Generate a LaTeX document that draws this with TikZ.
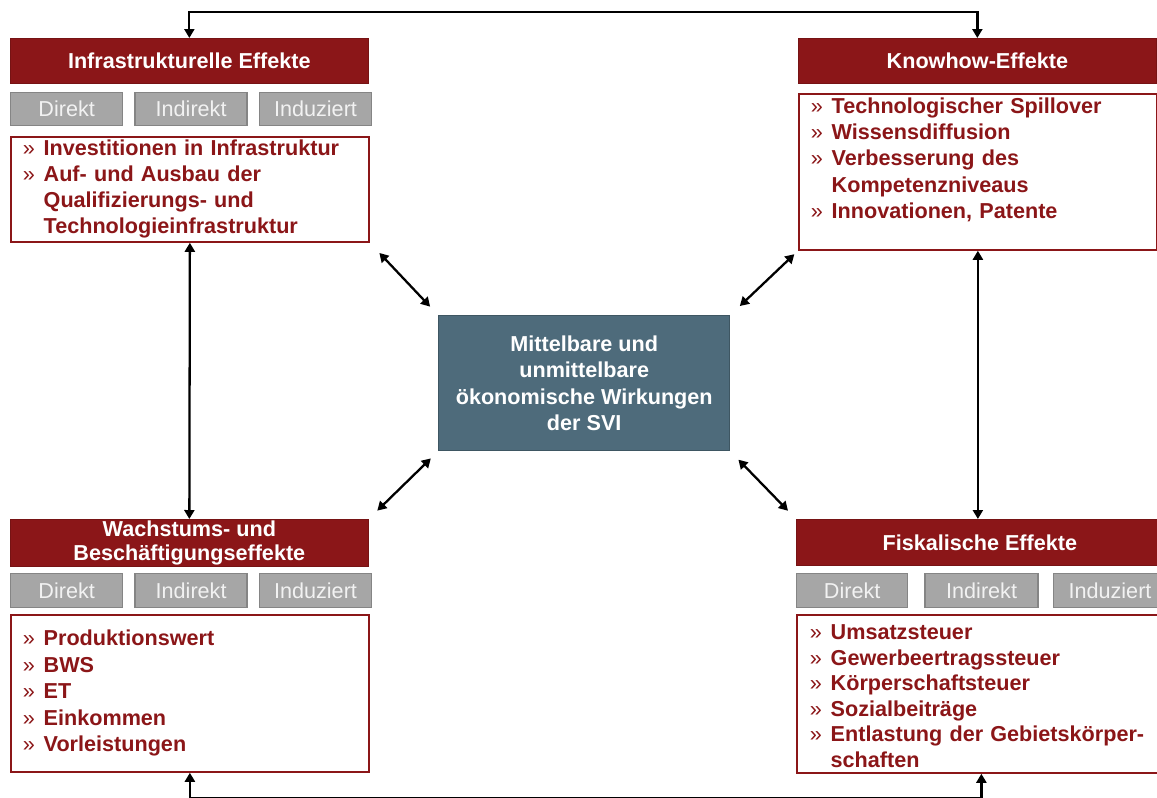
\documentclass[tikz,border=0pt]{standalone}
\usepackage{fontspec}
\setmainfont{Liberation Sans}
\usepackage{array}
\usetikzlibrary{arrows.meta}
\definecolor{effred}{RGB}{139,22,24}
\definecolor{kindgray}{RGB}{166,166,166}
\definecolor{kindtext}{RGB}{242,242,242}
\definecolor{svigray}{RGB}{78,107,123}
\newcommand{\efftext}{\fontsize{12.3}{14.8}\selectfont}
\newenvironment{efflist}{\begin{tabular}{@{}l@{\hspace{5pt}}>{\bfseries}l@{}}}{\end{tabular}}
\tikzset{
  head/.style={anchor=north west,draw=effred!85!black,fill=effred,text=white,font=\efftext\bfseries,
    minimum width=7.16cm,minimum height=0.9cm,inner sep=0pt,align=center},
  kind/.style={anchor=north west,draw=kindgray!80!black,fill=kindgray,text=kindtext,font=\efftext,
    minimum width=2.24cm,minimum height=0.66cm,inner sep=0pt,line width=0.8pt},
  body/.style={anchor=north west,draw=effred,line width=1pt,text=effred,font=\efftext,
    minimum width=7.16cm,text width=6.68cm,inner xsep=0.24cm,inner ysep=0pt,align=left},
  both/.style={{Triangle[length=1.8mm,width=2mm]}-{Triangle[length=1.8mm,width=2mm]},line width=1.3pt}
}
\begin{document}
\begin{tikzpicture}
    \useasboundingbox (0,0) rectangle (23.14,-15.96);
    %% Infrastrukturelle Effekte
    \node[head] (infra-head) at (0.2,-0.76) {Infrastrukturelle Effekte};
    \node[kind] (infra-dir) at (0.2,-1.84) {Direkt};
    \node[kind] (infra-ind) at ([xshift=0.22cm]infra-dir.north east) {Indirekt};
    \node[kind] (infra-ndz) at ([xshift=0.22cm]infra-ind.north east) {Induziert};
    \node[body,minimum height=2.1cm] (infra-body) at (0.2,-2.72) {\begin{efflist}
        » & Investitionen in Infrastruktur\\
        » & Auf- und Ausbau der\\
          & Qualifizierungs- und\\
          & Technologieinfrastruktur
      \end{efflist}};
    %% Knowhow-Effekte
    \node[head] (know-head) at (15.96,-0.76) {Knowhow-Effekte};
    \node[body,minimum height=3.12cm,font=\fontsize{12.3}{15}\selectfont] (know-body) at (15.96,-1.86) {\begin{efflist}
        » & Technologischer Spillover\\
        » & Wissensdiffusion\\
        » & Verbesserung des\\
          & Kompetenzniveaus\\
        » & Innovationen, Patente\\[-2pt]
          &
      \end{efflist}};
    %% Wachstums- und Beschaeftigungseffekte
    \node[head,minimum height=0.94cm,font=\fontsize{12.3}{13.8}\selectfont\bfseries] (wachs-head) at (0.2,-10.38)
      {Wachstums- und\\Beschäftigungseffekte};
    \node[kind,minimum height=0.68cm] (wachs-dir) at (0.2,-11.46) {Direkt};
    \node[kind,minimum height=0.68cm] (wachs-ind) at ([xshift=0.22cm]wachs-dir.north east) {Indirekt};
    \node[kind,minimum height=0.68cm] (wachs-ndz) at ([xshift=0.22cm]wachs-ind.north east) {Induziert};
    \node[body,minimum height=3.14cm,font=\fontsize{12.3}{15}\selectfont] (wachs-body) at (0.2,-12.28) {\begin{efflist}
        » & Produktionswert\\
        » & BWS\\
        » & ET\\
        » & Einkommen\\
        » & Vorleistungen
      \end{efflist}};
    %% Fiskalische Effekte
    \node[head,minimum width=7.34cm,minimum height=0.92cm] (fisk-head) at (15.92,-10.38) {Fiskalische Effekte};
    \node[kind,minimum width=2.22cm,minimum height=0.68cm] (fisk-dir) at (15.92,-11.46) {Direkt};
    \node[kind,minimum width=2.26cm,minimum height=0.68cm] (fisk-ind) at ([xshift=0.32cm]fisk-dir.north east) {Indirekt};
    \node[kind,minimum width=2.26cm,minimum height=0.68cm] (fisk-ndz) at ([xshift=0.28cm]fisk-ind.north east) {Induziert};
    \node[body,minimum width=7.34cm,text width=6.86cm,inner xsep=0.26cm,minimum height=3.16cm,
      font=\fontsize{12.3}{14.5}\selectfont] (fisk-body) at (15.92,-12.28) {\begin{efflist}
        » & Umsatzsteuer\\
        » & Gewerbeertragssteuer\\
        » & Körperschaftsteuer\\
        » & Sozialbeiträge\\
        » & Entlastung der Gebietskörper-\\
          & schaften\\[-5pt]
      \end{efflist}};
    %% centre
    \node[anchor=north west,draw=svigray!80!black,fill=svigray,text=white,line width=0.8pt,
      font=\fontsize{12.3}{15.1}\selectfont\bfseries,align=center,
      minimum width=5.82cm,minimum height=2.7cm] (svi) at (8.76,-6.3)
      {Mittelbare und\\unmittelbare\\ökonomische Wirkungen\\der SVI};
    %% connectors
    \coordinate (top) at (11.5,-0.24);
    \coordinate (bottom) at (11.5,-15.97);
    \draw[both] (infra-head.north) |- (top) -| (know-head.north);
    \draw[both] (wachs-body.south) |- (bottom) -| (fisk-body.south);
    \draw[both] (infra-body.south) -- (wachs-head.north);
    \draw[both] (know-body.south) -- (know-body.south |- fisk-head.north);
    \draw[both,shorten <=0.23cm,shorten >=0.28cm] (svi.north west) -- (infra-body.south east);
    \draw[both,shorten <=0.26cm,shorten >=0.1cm] (svi.north east) -- (know-body.south west);
    \draw[both,shorten <=0.2cm,shorten >=0.24cm] (svi.south west) -- (wachs-head.north east);
    \draw[both,shorten <=0.23cm,shorten >=0.23cm] (svi.south east) -- (fisk-head.north west);
\end{tikzpicture}
\end{document}
